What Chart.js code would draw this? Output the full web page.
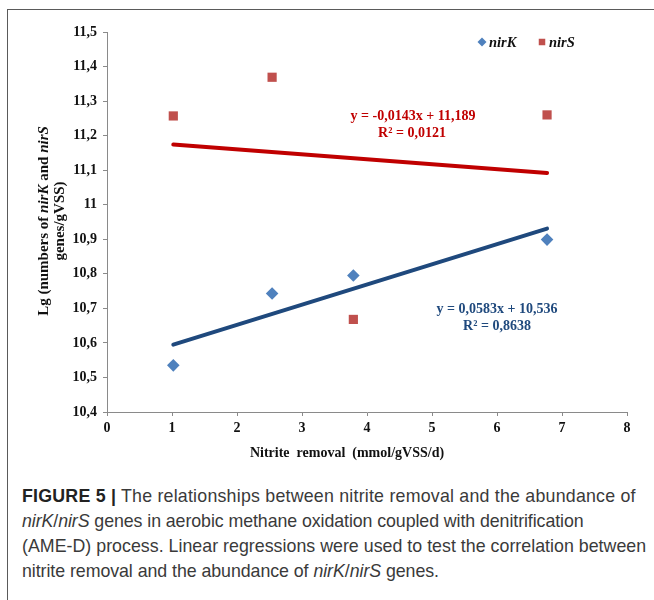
<!DOCTYPE html>
<html>
<head>
<meta charset="utf-8">
<script src="https://cdn.jsdelivr.net/npm/chart.js@4.4.0/dist/chart.umd.min.js"></script>
<style>
  html, body { margin: 0; padding: 0; background: #fff; }
  body { width: 654px; height: 600px; position: relative; overflow: hidden; }
  #frame { position: absolute; left: 7px; top: 9px; width: 700px; height: 700px;
           border-top: 1.5px solid #5a5a5a; border-left: 1.5px solid #5a5a5a; }
  #chart { position: absolute; left: 0; top: 0; }
  #caption { position: absolute; left: 22px; top: 484px; font-family: "Liberation Sans", Arial, sans-serif;
             font-size: 17.8px; line-height: 25px; color: #3a3a3a; white-space: nowrap; }
  #caption span { display: block; }
  #caption b { color: #222; }
</style>
</head>
<body>
<div id="frame"></div>
<canvas id="chart" width="654" height="470"></canvas>
<div id="caption">
  <span style="letter-spacing:0.22px"><b>FIGURE 5 |</b> The relationships between nitrite removal and the abundance of</span>
  <span style="letter-spacing:-0.08px"><i>nirK</i>/<i>nirS</i> genes in aerobic methane oxidation coupled with denitrification</span>
  <span style="letter-spacing:0.02px">(AME-D) process. Linear regressions were used to test the correlation between</span>
  <span style="letter-spacing:-0.06px">nitrite removal and the abundance of <i>nirK</i>/<i>nirS</i> genes.</span>
</div>
<script>
// values
const xValues = [1.02, 2.54, 3.79, 6.77];
const nirK = [10.535, 10.743, 10.795, 10.899];
const nirS = [11.257, 11.369, 10.668, 11.26];
const trendX = [1.02, 6.77];
const nirKTrend = [10.595, 10.931];
const nirSTrend = [11.174, 11.092];
const xTickLabels = ['0', '1', '2', '3', '4', '5', '6', '7', '8'];
const yTickLabels = ['10,4', '10,5', '10,6', '10,7', '10,8', '10,9', '11', '11,1', '11,2', '11,3', '11,4', '11,5'];

const serif = '"Liberation Serif", "Times New Roman", serif';
const blueMark = '#4f81bd', redMark = '#c0504d';
const blueLine = '#1f497d', redLine = '#c00000';

const pts = (xs, ys) => xs.map((x, i) => ({x: x, y: ys[i]}));

// draws titles, equations and the small legend
const textPlugin = {
  id: 'texts',
  afterDraw(chart) {
    const ctx = chart.ctx;
    ctx.save();
    ctx.textBaseline = 'middle';
    ctx.textAlign = 'center';
    ctx.fillStyle = '#111';
    ctx.font = 'bold 14px ' + serif;
    ctx.fillText('Nitrite  removal  (mmol/gVSS/d)', 347, 453);

    // y title, two lines, rotated
    const line1 = [['Lg (numbers of ', ''], ['nirK', 'italic '], [' and ', ''], ['nirS', 'italic ']];
    ctx.save();
    ctx.translate(44, 221);
    ctx.rotate(-Math.PI / 2);
    let total = 0;
    line1.forEach(s => { ctx.font = s[1] + 'bold 15px ' + serif; total += ctx.measureText(s[0]).width; });
    let cx = -total / 2;
    ctx.textAlign = 'left';
    line1.forEach(s => {
      ctx.font = s[1] + 'bold 15px ' + serif;
      ctx.fillText(s[0], cx, 0);
      cx += ctx.measureText(s[0]).width;
    });
    ctx.textAlign = 'center';
    ctx.font = 'bold 15px ' + serif;
    ctx.fillText('genes/gVSS)', 0, 16);
    ctx.restore();

    // regression equations
    ctx.font = 'bold 14px ' + serif;
    ctx.fillStyle = redLine;
    ctx.fillText('y = -0,0143x + 11,189', 413, 116);
    ctx.fillText('R\u00b2 = 0,0121', 412, 133);
    ctx.fillStyle = blueLine;
    ctx.fillText('y = 0,0583x + 10,536', 497, 309);
    ctx.fillText('R\u00b2 = 0,8638', 497, 326);

    // legend
    const drawPoint = Chart.helpers.drawPoint;
    ctx.fillStyle = blueMark;
    ctx.strokeStyle = blueMark;
    ctx.lineWidth = 0;
    drawPoint(ctx, {pointStyle: 'rectRot', radius: 4.5, rotation: 0, borderWidth: 0}, 482, 42);
    ctx.fillStyle = redMark;
    ctx.strokeStyle = redMark;
    drawPoint(ctx, {pointStyle: 'rect', radius: 4.6, rotation: 0, borderWidth: 0}, 542, 42);
    ctx.fillStyle = '#111';
    ctx.textAlign = 'left';
    ctx.font = 'italic bold 14.5px ' + serif;
    ctx.fillText('nirK', 489, 43);
    ctx.fillText('nirS', 549, 43);
    ctx.restore();
  }
};

new Chart(document.getElementById('chart'), {
  type: 'scatter',
  data: {
    datasets: [
      {
        label: 'nirK', data: pts(xValues, nirK), pointStyle: 'rectRot', pointRadius: 6.3,
        backgroundColor: blueMark, borderColor: blueMark, borderWidth: 0, order: 1
      },
      {
        label: 'nirS', data: pts(xValues, nirS), pointStyle: 'rect', pointRadius: 6.5,
        backgroundColor: redMark, borderColor: redMark, borderWidth: 0, order: 1
      },
      {
        label: 'nirK trend', data: pts(trendX, nirKTrend), showLine: true, pointRadius: 0,
        borderColor: blueLine, borderWidth: 4, borderCapStyle: 'round', order: 2
      },
      {
        label: 'nirS trend', data: pts(trendX, nirSTrend), showLine: true, pointRadius: 0,
        borderColor: redLine, borderWidth: 4, borderCapStyle: 'round', order: 2
      }
    ]
  },
  options: {
    responsive: false,
    animation: false,
    layout: { padding: { left: 0, top: 32, right: 27, bottom: 0 } },
    plugins: { legend: { display: false }, tooltip: { enabled: false } },
    scales: {
      x: {
        type: 'linear', min: 0, max: 8,
        afterFit: s => { s.height = 58; },
        ticks: {
          stepSize: 1, padding: 4, color: '#111',
          font: { family: serif, weight: 'bold', size: 14 },
          callback: (v, i) => xTickLabels[i]
        },
        grid: { drawOnChartArea: false, drawTicks: true, tickLength: 4, color: '#8a8a8a' },
        border: { color: '#8a8a8a', width: 1 }
      },
      y: {
        type: 'linear', min: 10.4, max: 11.5,
        afterFit: s => { s.width = 107; },
        ticks: {
          stepSize: 0.1, padding: 6, color: '#111',
          font: { family: serif, weight: 'bold', size: 14 },
          callback: (v, i) => yTickLabels[i]
        },
        grid: { drawOnChartArea: false, drawTicks: true, tickLength: 4, color: '#8a8a8a' },
        border: { color: '#8a8a8a', width: 1 }
      }
    }
  },
  plugins: [textPlugin]
});
</script>
</body>
</html>
